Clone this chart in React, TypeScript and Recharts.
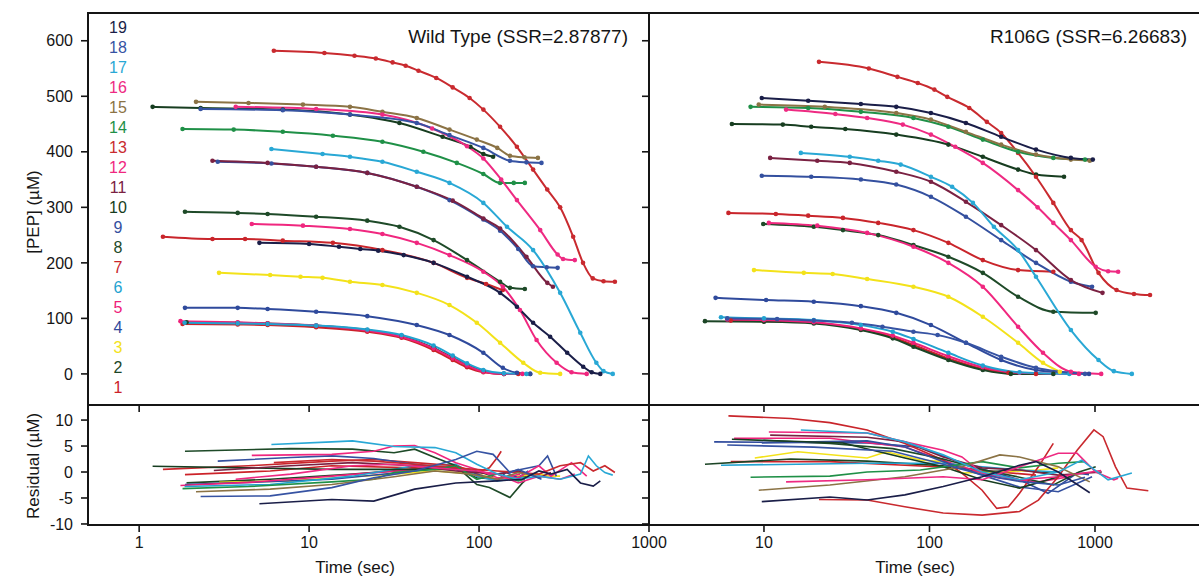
import { LineChart, Line, XAxis, YAxis } from "recharts";

type Pt = [number, number];

// curve numbers and colours (legend order 1..19)
const curveIds = [1, 2, 3, 4, 5, 6, 7, 8, 9, 10, 11, 12, 13, 14, 15, 16, 17, 18, 19];
const curveColors = [
  "#cc2229", "#1c4526", "#f3e21a", "#2f4a9c", "#ee2079", "#22a2d0", "#c9252b",
  "#1e4a28", "#34509f", "#173d20", "#7a2142", "#f0277f", "#c92a2f", "#1f9047",
  "#8b7345", "#ee2a82", "#29a8d5", "#3653a3", "#1a1e48",
];

// tick labels
const wtTimeTicks = [1, 10, 100, 1000];
const rgTimeTicks = [10, 100, 1000];
const pepTicks = [0, 100, 200, 300, 400, 500, 600];
const residTicks = [-10, -5, 0, 5, 10];

// ---- Wild type progress curves [time (s), PEP (uM)]
const wtFit1: Pt[] = [[1.8, 90], [3.8, 89], [5.7, 88], [11, 84], [22, 76], [35, 65], [54, 43], [70, 25], [85, 12], [106, 3], [140, 0], [170, 0]];
const wtFit2: Pt[] = [[1.9, 93], [3.8, 92], [5.7, 91], [11, 87], [22, 79], [35, 68], [54, 47], [70, 29], [85, 16], [106, 5], [140, 0], [200, 0]];
const wtFit3: Pt[] = [[2.95, 182], [5.9, 178], [8.9, 175], [12, 173], [17.4, 166], [27, 160], [43, 146], [67, 124], [97, 92], [133, 56], [182, 20], [229, 2], [300, 0]];
const wtFit4: Pt[] = [[1.86, 119], [3.8, 119], [5.7, 117], [11, 112], [22, 104], [43, 88], [67, 70], [106, 38], [138, 11], [167, 2], [200, 0]];
const wtFit5: Pt[] = [[1.75, 95], [3.8, 93], [5.7, 91], [11, 87], [22, 78], [35, 67], [54, 46], [70, 28], [85, 15], [106, 4], [140, 0], [180, 0]];
const wtFit6: Pt[] = [[1.85, 92], [3.8, 91], [5.7, 90], [11, 87], [22, 80], [35, 70], [54, 51], [70, 33], [85, 19], [106, 7], [140, 1], [190, 0]];
const wtFit7: Pt[] = [[1.38, 247], [2.7, 243], [4.2, 243], [7, 240], [13.8, 236], [27, 223], [54, 200], [85, 173], [110, 162], [138, 151]];
const wtFit8: Pt[] = [[1.86, 292], [3.8, 290], [5.7, 288], [11, 283], [22, 276], [34, 265], [54, 241], [85, 205], [133, 166], [152, 155], [186, 153]];
const wtFit9: Pt[] = [[2.9, 382], [6, 379], [11, 373], [22, 362], [43, 337], [67, 313], [106, 278], [133, 258], [170, 225], [208, 194], [250, 192], [290, 191]];
const wtFit10: Pt[] = [[1.2, 481], [2.3, 479], [7, 476], [17.4, 467], [34, 452], [61, 427], [89, 409], [106, 396], [121, 391]];
const wtFit11: Pt[] = [[2.7, 384], [5.7, 380], [11, 373], [22, 362], [43, 337], [70, 312], [106, 280], [133, 262], [190, 211], [252, 164], [272, 157]];
const wtFit12: Pt[] = [[4.6, 270], [9.2, 267], [17.4, 261], [27, 252], [43, 236], [67, 214], [106, 184], [138, 157], [174, 115], [218, 61], [286, 20], [350, 3], [430, 0]];
const wtFit13: Pt[] = [[6.2, 582], [12.3, 578], [18.5, 573], [24.7, 568], [31, 561], [37, 555], [44, 546], [56, 533], [70, 516], [88, 497], [106, 476], [133, 445], [167, 409], [208, 368], [252, 332], [300, 300], [358, 247], [409, 200], [467, 172], [540, 167], [630, 166]];
const wtFit14: Pt[] = [[1.8, 441], [3.6, 440], [7, 436], [13.8, 429], [27, 418], [47, 400], [74, 380], [106, 360], [133, 344], [160, 344], [186, 344]];
const wtFit15: Pt[] = [[2.16, 490], [4.4, 488], [9.2, 485], [17.4, 481], [27, 472], [43, 461], [67, 440], [97, 422], [128, 407], [152, 393], [185, 390], [222, 389]];
const wtFit16: Pt[] = [[3.7, 481], [11, 477], [27, 467], [53, 442], [85, 410], [106, 388], [135, 350], [167, 313], [229, 259], [290, 215], [312, 207], [366, 205]];
const wtFit17: Pt[] = [[6, 405], [12, 396], [17.4, 391], [27, 382], [43, 364], [67, 344], [106, 308], [146, 265], [208, 223], [300, 146], [394, 74], [490, 20], [540, 5], [612, 0]];
const wtFit18: Pt[] = [[2.3, 477], [7, 475], [17.4, 467], [43, 452], [67, 430], [106, 407], [152, 384], [190, 381], [233, 380]];
const wtFit19: Pt[] = [[5.1, 236], [10, 234], [15, 229], [20, 225], [25.5, 222], [36, 214], [54, 200], [85, 175], [133, 146], [167, 121], [208, 92], [262, 67], [330, 38], [410, 13], [460, 3], [517, 0]];

// ---- R106G progress curves
const rgFit1: Pt[] = [[6.3, 96], [10, 95], [20, 92], [38.5, 80], [60, 66], [80, 52], [130, 28], [210, 9], [300, 2], [440, 0]];
const rgFit2: Pt[] = [[4.4, 95], [10, 94], [20, 91], [38.5, 79], [60, 64], [80, 49], [130, 25], [210, 7], [310, 0], [560, 0]];
const rgFit3: Pt[] = [[8.7, 187], [17.4, 182], [26, 180], [42, 171], [80, 157], [130, 139], [210, 103], [343, 56], [485, 20], [613, 4]];
const rgFit4: Pt[] = [[5.1, 137], [10.3, 133], [20, 130], [38.5, 122], [63, 110], [102, 88], [166, 56], [271, 25], [440, 7], [920, 0]];
const rgFit5: Pt[] = [[6, 98], [10, 97], [20, 93], [38.5, 82], [60, 69], [80, 56], [130, 32], [210, 12], [350, 2], [800, 0]];
const rgFit6: Pt[] = [[5.5, 102], [10, 100], [20, 97], [38.5, 88], [60, 76], [80, 63], [130, 38], [210, 15], [350, 3], [700, 0]];
const rgFit7: Pt[] = [[6.1, 290], [11.8, 288], [18.5, 285], [30, 281], [49, 272], [80, 259], [130, 236], [210, 205], [343, 187], [560, 184]];
const rgFit8: Pt[] = [[9.9, 270], [20, 265], [30, 259], [49, 250], [80, 232], [130, 211], [210, 182], [343, 139], [560, 112], [1010, 110]];
const rgFit9: Pt[] = [[9.7, 357], [19.3, 355], [38.5, 350], [63, 341], [102, 319], [166, 283], [271, 241], [440, 200], [715, 166], [960, 157]];
const rgFit10: Pt[] = [[6.4, 450], [13, 449], [19.3, 445], [31, 441], [63, 431], [130, 413], [210, 391], [343, 368], [440, 359], [650, 355]];
const rgFit11: Pt[] = [[10.9, 389], [21, 384], [33, 380], [63, 364], [102, 346], [166, 310], [271, 268], [440, 223], [715, 169], [1110, 146]];
const rgFit12: Pt[] = [[10.7, 272], [21, 267], [42, 254], [80, 229], [130, 200], [210, 157], [343, 85], [485, 38], [715, 4], [1090, 0]];
const rgFit13: Pt[] = [[21.5, 562], [43, 550], [64, 535], [85, 524], [107, 512], [128, 499], [174, 479], [222, 454], [271, 434], [343, 398], [440, 355], [560, 308], [715, 259], [830, 241], [1050, 182], [1350, 151], [1720, 144], [2150, 142]];
const rgFit14: Pt[] = [[8.3, 481], [18.5, 479], [38.5, 472], [80, 461], [130, 445], [210, 422], [343, 400], [560, 389], [870, 386]];
const rgFit15: Pt[] = [[9.3, 485], [23.3, 481], [63, 470], [102, 458], [166, 436], [271, 413], [440, 395], [715, 386], [930, 384]];
const rgFit16: Pt[] = [[13.6, 476], [27, 468], [42, 461], [69, 449], [102, 431], [143, 409], [210, 380], [343, 331], [450, 300], [560, 272], [715, 241], [1010, 193], [1200, 185], [1380, 184]];
const rgFit17: Pt[] = [[16.7, 398], [33, 391], [49, 384], [67, 377], [102, 355], [137, 337], [183, 308], [245, 265], [343, 223], [440, 175], [715, 79], [1050, 25], [1300, 5], [1670, 0]];
const rgFit18: Pt[] = [[6, 100], [12, 99], [20, 96], [34, 92], [52, 85], [80, 76], [112, 70], [166, 56], [271, 31], [440, 11], [870, 0]];
const rgFit19: Pt[] = [[9.7, 497], [18.5, 492], [38.5, 486], [63, 481], [102, 470], [166, 452], [271, 427], [440, 404], [715, 389], [970, 386]];

// ---- Wild type residuals [time (s), residual (uM)]
const wtRes1: Pt[] = [[1.86, -0.5], [5.9, 0.2], [13.6, 1.2], [41.8, 0.8], [73, 0.5], [97, -0.4], [128, -1.4], [160, -0.8]];
const wtRes2: Pt[] = [[1.9, -2.1], [5.9, -1.4], [18, -0.4], [41.8, 0.5], [73, 0.5], [97, -1.1], [128, -1.4], [190, -0.8]];
const wtRes3: Pt[] = [[2.96, -2], [7.8, -1.7], [18, -0.9], [31.6, -0.4], [55, 0.2], [97, -0.4], [128, -1.4], [170, -0.8], [225, -0.4], [265, -0.8], [300, -0.8]];
const wtRes4: Pt[] = [[1.86, -2.4], [4.4, -2], [13.6, -1.4], [41.8, 0.2], [73, 1.2], [97, -0.4], [128, -1.7], [144, -0.1], [170, -1.1], [195, 0.2]];
const wtRes5: Pt[] = [[1.75, -2.6], [4.4, -2], [13.6, -0.8], [41.8, 0.5], [73, 0.8], [97, -0.8], [128, -1.4], [175, -0.4]];
const wtRes6: Pt[] = [[1.85, -2.8], [5.9, -2.4], [18, -0.8], [41.8, 1.2], [73, 1.5], [97, -0.8], [128, -1.7], [185, -1.1]];
const wtRes7: Pt[] = [[1.38, 0.5], [4.4, 1.2], [13.6, 2.1], [24, 2.4], [41.8, 1.8], [73, 1.2], [97, -0.1], [115, 0.8], [128, 2.8], [135, 4]];
const wtRes8: Pt[] = [[1.86, 4], [7.8, 4.5], [18, 4.4], [31.6, 3.7], [41.8, 4.4], [55, 2.8], [73, 1.2], [97, -2.4], [115, -3], [152, -4.9], [180, -2.1], [186, -1.7]];
const wtRes9: Pt[] = [[2.9, 2.1], [7.8, 2.8], [13.6, 3.1], [24, 2.6], [41.8, 1.5], [73, 0.5], [128, -0.4], [225, 1.2], [253, 3.1], [285, -0.8]];
const wtRes10: Pt[] = [[1.2, 1.1], [4.4, 0.8], [13.6, 0.5], [41.8, 0.5], [73, 0.8], [97, 0.2], [121, -0.8]];
const wtRes11: Pt[] = [[2.75, 0.3], [7.8, 1.2], [18, 1.8], [41.8, 1.2], [73, 0.2], [128, -0.4], [170, 0.2], [225, -1.1], [265, -0.1]];
const wtRes12: Pt[] = [[4.6, 3.2], [13.6, 3.4], [24, 4], [31.6, 5], [41.8, 5.1], [55, 3.7], [73, 1.8], [97, 0.5], [128, -1.1], [170, -1.1], [225, 1.2], [265, -0.8], [350, 1.8], [430, -0.8]];
const wtRes13: Pt[] = [[6.2, 1.8], [13.6, 2.4], [24, 2.1], [41.8, 1.5], [73, 0.8], [128, 0.2], [225, -0.4], [300, 1.2], [395, 1.8], [470, 0.2], [550, 1.2], [630, -0.1]];
const wtRes14: Pt[] = [[1.8, -3.2], [4.4, -2.8], [13.6, -1.9], [24, -1.4], [31.6, -0.1], [55, 0.5], [73, 1.2], [97, -1.4], [128, -0.4], [170, -1.7], [186, -1.4]];
const wtRes15: Pt[] = [[2.16, -3.8], [5.9, -3.3], [13.6, -2.4], [31.6, -0.9], [55, 0.2], [90, -0.4], [128, -1.4], [170, -0.1], [222, -0.8]];
const wtRes16: Pt[] = [[3.7, -1.4], [7.8, -0.4], [18, 1.2], [31.6, 1.5], [55, 0.8], [97, 0.2], [128, -0.4], [170, -2.1], [225, -0.8], [300, -1.4], [366, -0.4]];
const wtRes17: Pt[] = [[6, 5.3], [13.6, 5.8], [18, 6], [31.6, 4.9], [55, 4.7], [73, 3.7], [97, 1.5], [128, -0.4], [170, -1.4], [225, -0.8], [300, -1.4], [395, -0.4], [440, 3.1], [490, 1.2], [550, -0.1], [612, -0.6]];
const wtRes18: Pt[] = [[2.3, -4.7], [5.9, -4.6], [13.6, -3], [24, -1.1], [41.8, 0.2], [73, 2.4], [97, 4], [121, 3.4], [152, -0.1], [170, 0.5], [233, -1.4]];
const wtRes19: Pt[] = [[5.1, -6.1], [13.6, -5.3], [24, -5.6], [41.8, -3.3], [73, -2.1], [128, -1.7], [180, -1.4], [225, 0.2], [265, -0.4], [330, 0.5], [395, -2.1], [470, -2.7], [517, -1.7]];

// ---- R106G residuals
const rgRes1: Pt[] = [[6.3, 2], [25, 2], [71, 1.3], [157, 0.8], [266, 0], [440, -0.6]];
const rgRes2: Pt[] = [[4.4, 1.5], [14.5, 2.5], [42, 2.1], [120, 1.2], [208, 0], [350, 0.4], [560, -0.3]];
const rgRes3: Pt[] = [[8.8, 2.7], [16, 3.9], [42, 2.7], [55, 3.9], [88, 2.3], [121, 2], [157, -0.2], [266, 0], [455, 0.4], [600, 0.8]];
const rgRes4: Pt[] = [[5, 5.8], [42, 5.6], [88, 4.8], [157, 1.7], [350, -1.5], [520, -4.1], [780, -0.2], [920, -0.5]];
const rgRes5: Pt[] = [[6.6, 6.5], [25, 6.5], [71, 4.8], [157, 1], [266, -1.2], [455, -1.9], [700, -0.9]];
const rgRes6: Pt[] = [[5.5, 1.3], [42, 1.7], [121, 1.7], [208, 1], [350, 0.4], [600, 0]];
const rgRes7: Pt[] = [[6.1, 10.8], [14.5, 10.3], [25, 9.5], [42, 8.1], [71, 5.5], [121, 2.3], [157, -0.2], [208, -3.5], [255, -7], [300, -6.7], [350, -4.1], [455, 1], [560, 5.5]];
const rgRes8: Pt[] = [[9.9, 6.1], [25, 5.5], [60, 4.5], [121, 2.5], [208, 0.5], [350, -1], [560, -2.5], [800, 0], [1010, 1]];
const rgRes9: Pt[] = [[9.7, 5.6], [42, 6], [71, 4.8], [121, 2], [208, -0.6], [350, -2.9], [600, -3.8], [960, -0.9]];
const rgRes10: Pt[] = [[6.4, 6.3], [30, 5.6], [71, 2.7], [121, 1], [208, -1.5], [350, -3.1], [600, -0.9], [650, -0.5]];
const rgRes11: Pt[] = [[10.9, 7.1], [42, 6.7], [71, 5.8], [121, 2.9], [208, 0.8], [350, 0.4], [600, -0.6], [1100, 0]];
const rgRes12: Pt[] = [[10.7, 7.7], [42, 7.5], [71, 5.8], [121, 4.2], [157, 2.9], [208, -0.2], [350, -1.5], [600, -0.9], [1090, 0.3]];
const rgRes13: Pt[] = [[21.5, -5.3], [42, -5.4], [71, -6.7], [121, -7.9], [208, -8.3], [350, -7.6], [455, -5.4], [600, -0.9], [780, 4.2], [985, 8.1], [1120, 6.8], [1330, 1], [1560, -3.1], [2100, -3.6]];
const rgRes14: Pt[] = [[8.3, -1], [25, -0.8], [42, 0], [88, 0.4], [208, 2], [350, 0.8], [600, 1.7], [870, 2]];
const rgRes15: Pt[] = [[9.3, -3.5], [25, -2.5], [71, -0.9], [157, 1], [266, 3.3], [350, 2.9], [600, 1], [930, -1.9]];
const rgRes16: Pt[] = [[13.6, -1.9], [42, -1.5], [121, -0.9], [208, -1.5], [350, 1], [600, 3.6], [780, 3.6], [1010, 0], [1300, -1.5], [1380, -1.2]];
const rgRes17: Pt[] = [[16.7, 8.1], [42, 7.5], [71, 5.8], [121, 3.3], [208, 0], [350, -1.5], [600, 0], [830, 2.3], [1200, -1.5], [1670, -0.2]];
const rgRes18: Pt[] = [[6, 5.2], [20, 4.8], [60, 4], [121, 1.5], [208, -0.5], [350, -1.8], [600, -2.5], [870, -1]];
const rgRes19: Pt[] = [[9.7, -5.7], [25, -4.8], [42, -5.4], [71, -4.4], [121, -2.8], [208, -0.9], [350, 1.3], [440, 2], [600, 0], [930, -4]];

const wtFits = [wtFit1, wtFit2, wtFit3, wtFit4, wtFit5, wtFit6, wtFit7, wtFit8, wtFit9, wtFit10, wtFit11, wtFit12, wtFit13, wtFit14, wtFit15, wtFit16, wtFit17, wtFit18, wtFit19];
const rgFits = [rgFit1, rgFit2, rgFit3, rgFit4, rgFit5, rgFit6, rgFit7, rgFit8, rgFit9, rgFit10, rgFit11, rgFit12, rgFit13, rgFit14, rgFit15, rgFit16, rgFit17, rgFit18, rgFit19];
const wtResids = [wtRes1, wtRes2, wtRes3, wtRes4, wtRes5, wtRes6, wtRes7, wtRes8, wtRes9, wtRes10, wtRes11, wtRes12, wtRes13, wtRes14, wtRes15, wtRes16, wtRes17, wtRes18, wtRes19];
const rgResids = [rgRes1, rgRes2, rgRes3, rgRes4, rgRes5, rgRes6, rgRes7, rgRes8, rgRes9, rgRes10, rgRes11, rgRes12, rgRes13, rgRes14, rgRes15, rgRes16, rgRes17, rgRes18, rgRes19];

const INK = "#151515";
const FONT = "'Liberation Sans', Arial, Helvetica, sans-serif";

const toRows = (pts: Pt[]) => pts.map(([t, v]) => ({ t, v }));

interface PanelProps {
  width: number;
  height: number;
  margin: { top: number; right: number; bottom: number; left: number };
  yAxisWidth: number;
  xAxisHeight: number;
  xDomain: [number, number];
  yDomain: [number, number];
  xTicks: number[];
  yTicks: number[];
  xLabels: boolean;
  yLabels: boolean;
  series: Pt[][];
  dots: boolean;
}

function Panel(p: PanelProps) {
  const tickLine = { stroke: INK, strokeWidth: 1.6 };
  return (
    <div style={{ position: "absolute", left: 0, top: 0 }}>
      <LineChart width={p.width} height={p.height} margin={p.margin}>
        <XAxis
          dataKey="t"
          type="number"
          scale="log"
          domain={p.xDomain}
          allowDataOverflow
          ticks={p.xTicks}
          interval={0}
          height={p.xAxisHeight}
          axisLine={false}
          tickLine={tickLine}
          tickSize={7}
          tickMargin={5}
          tick={{ fill: INK, fontSize: 16 }}
          tickFormatter={(v: number) => (p.xLabels ? String(v) : "")}
        />
        <YAxis
          type="number"
          domain={p.yDomain}
          allowDataOverflow
          ticks={p.yTicks}
          interval={0}
          width={p.yAxisWidth}
          axisLine={false}
          tickLine={tickLine}
          tickSize={7}
          tickMargin={8}
          tick={{ fill: INK, fontSize: 16 }}
          tickFormatter={(v: number) => (p.yLabels ? String(v) : "")}
        />
        {p.series.map((pts, i) => (
          <Line
            key={curveIds[i]}
            data={toRows(pts)}
            dataKey="v"
            type={p.dots ? "monotone" : "linear"}
            stroke={curveColors[i]}
            strokeWidth={p.dots ? 2 : 1.6}
            dot={p.dots ? { r: 2.3, fill: curveColors[i], stroke: "none" } : false}
            activeDot={false}
            isAnimationActive={false}
          />
        ))}
      </LineChart>
    </div>
  );
}

const hLine = (top: number) => (
  <div style={{ position: "absolute", left: 87, top, width: 1112, height: 2, background: INK }} />
);
const vLine = (left: number) => (
  <div style={{ position: "absolute", left, top: 12, width: 2, height: 514, background: INK }} />
);

const rotLabel = (text: string, cx: number, cy: number) => (
  <div
    style={{
      position: "absolute",
      left: cx,
      top: cy,
      transform: "translate(-50%, -50%) rotate(-90deg)",
      whiteSpace: "nowrap",
      fontSize: 17,
      color: INK,
    }}
  >
    {text}
  </div>
);

const centerLabel = (text: string, cx: number, cy: number, size: number) => (
  <div
    style={{
      position: "absolute",
      left: cx,
      top: cy,
      transform: "translate(-50%, -50%)",
      whiteSpace: "nowrap",
      fontSize: size,
      color: INK,
    }}
  >
    {text}
  </div>
);

export default function App() {
  return (
    <div
      style={{
        position: "absolute",
        left: 0,
        top: 0,
        width: 1199,
        height: 578,
        background: "#fff",
        fontFamily: FONT,
        overflow: "hidden",
      }}
    >
      {/* Wild type: progress curves */}
      <Panel
        width={700} height={425}
        margin={{ top: 13, right: 51, bottom: 0, left: 0 }}
        yAxisWidth={88} xAxisHeight={20}
        xDomain={[0.5, 1000]} yDomain={[-56, 650]}
        xTicks={wtTimeTicks} yTicks={pepTicks}
        xLabels={false} yLabels={true}
        series={wtFits} dots={true}
      />
      {/* Wild type: residuals */}
      <Panel
        width={700} height={578}
        margin={{ top: 405, right: 51, bottom: 0, left: 0 }}
        yAxisWidth={88} xAxisHeight={53}
        xDomain={[0.5, 1000]} yDomain={[-10.2, 12.9]}
        xTicks={wtTimeTicks} yTicks={residTicks}
        xLabels={true} yLabels={true}
        series={wtResids} dots={false}
      />
      {/* R106G: progress curves */}
      <Panel
        width={1199} height={425}
        margin={{ top: 13, right: 0, bottom: 0, left: 629 }}
        yAxisWidth={20} xAxisHeight={20}
        xDomain={[2.02, 4250]} yDomain={[-56, 650]}
        xTicks={rgTimeTicks} yTicks={pepTicks}
        xLabels={false} yLabels={false}
        series={rgFits} dots={true}
      />
      {/* R106G: residuals */}
      <Panel
        width={1199} height={578}
        margin={{ top: 405, right: 0, bottom: 0, left: 629 }}
        yAxisWidth={20} xAxisHeight={53}
        xDomain={[2.02, 4250]} yDomain={[-10.2, 12.9]}
        xTicks={rgTimeTicks} yTicks={residTicks}
        xLabels={true} yLabels={false}
        series={rgResids} dots={false}
      />

      {/* frame */}
      {hLine(12)}
      {hLine(404)}
      {hLine(524)}
      {vLine(87)}
      {vLine(648)}

      {/* titles */}
      <div style={{ position: "absolute", left: 300, top: 27, width: 328, textAlign: "right", fontSize: 19, lineHeight: "20px", color: INK }}>
        Wild Type (SSR=2.87877)
      </div>
      <div style={{ position: "absolute", left: 850, top: 27, width: 337, textAlign: "right", fontSize: 19, lineHeight: "20px", color: INK }}>
        R106G (SSR=6.26683)
      </div>

      {/* curve number legend */}
      {curveIds.map((id, i) => (
        <div
          key={id}
          style={{
            position: "absolute",
            left: 100,
            width: 36,
            top: 388 - 20 * i - 9,
            lineHeight: "18px",
            textAlign: "center",
            fontSize: 16,
            color: curveColors[i],
          }}
        >
          {id}
        </div>
      ))}

      {/* axis titles */}
      {rotLabel("[PEP] (\u00b5M)", 34, 212)}
      {rotLabel("Residual (\u00b5M)", 34, 466)}
      {centerLabel("Time (sec)", 355, 568, 17)}
      {centerLabel("Time (sec)", 915, 568, 17)}
    </div>
  );
}
